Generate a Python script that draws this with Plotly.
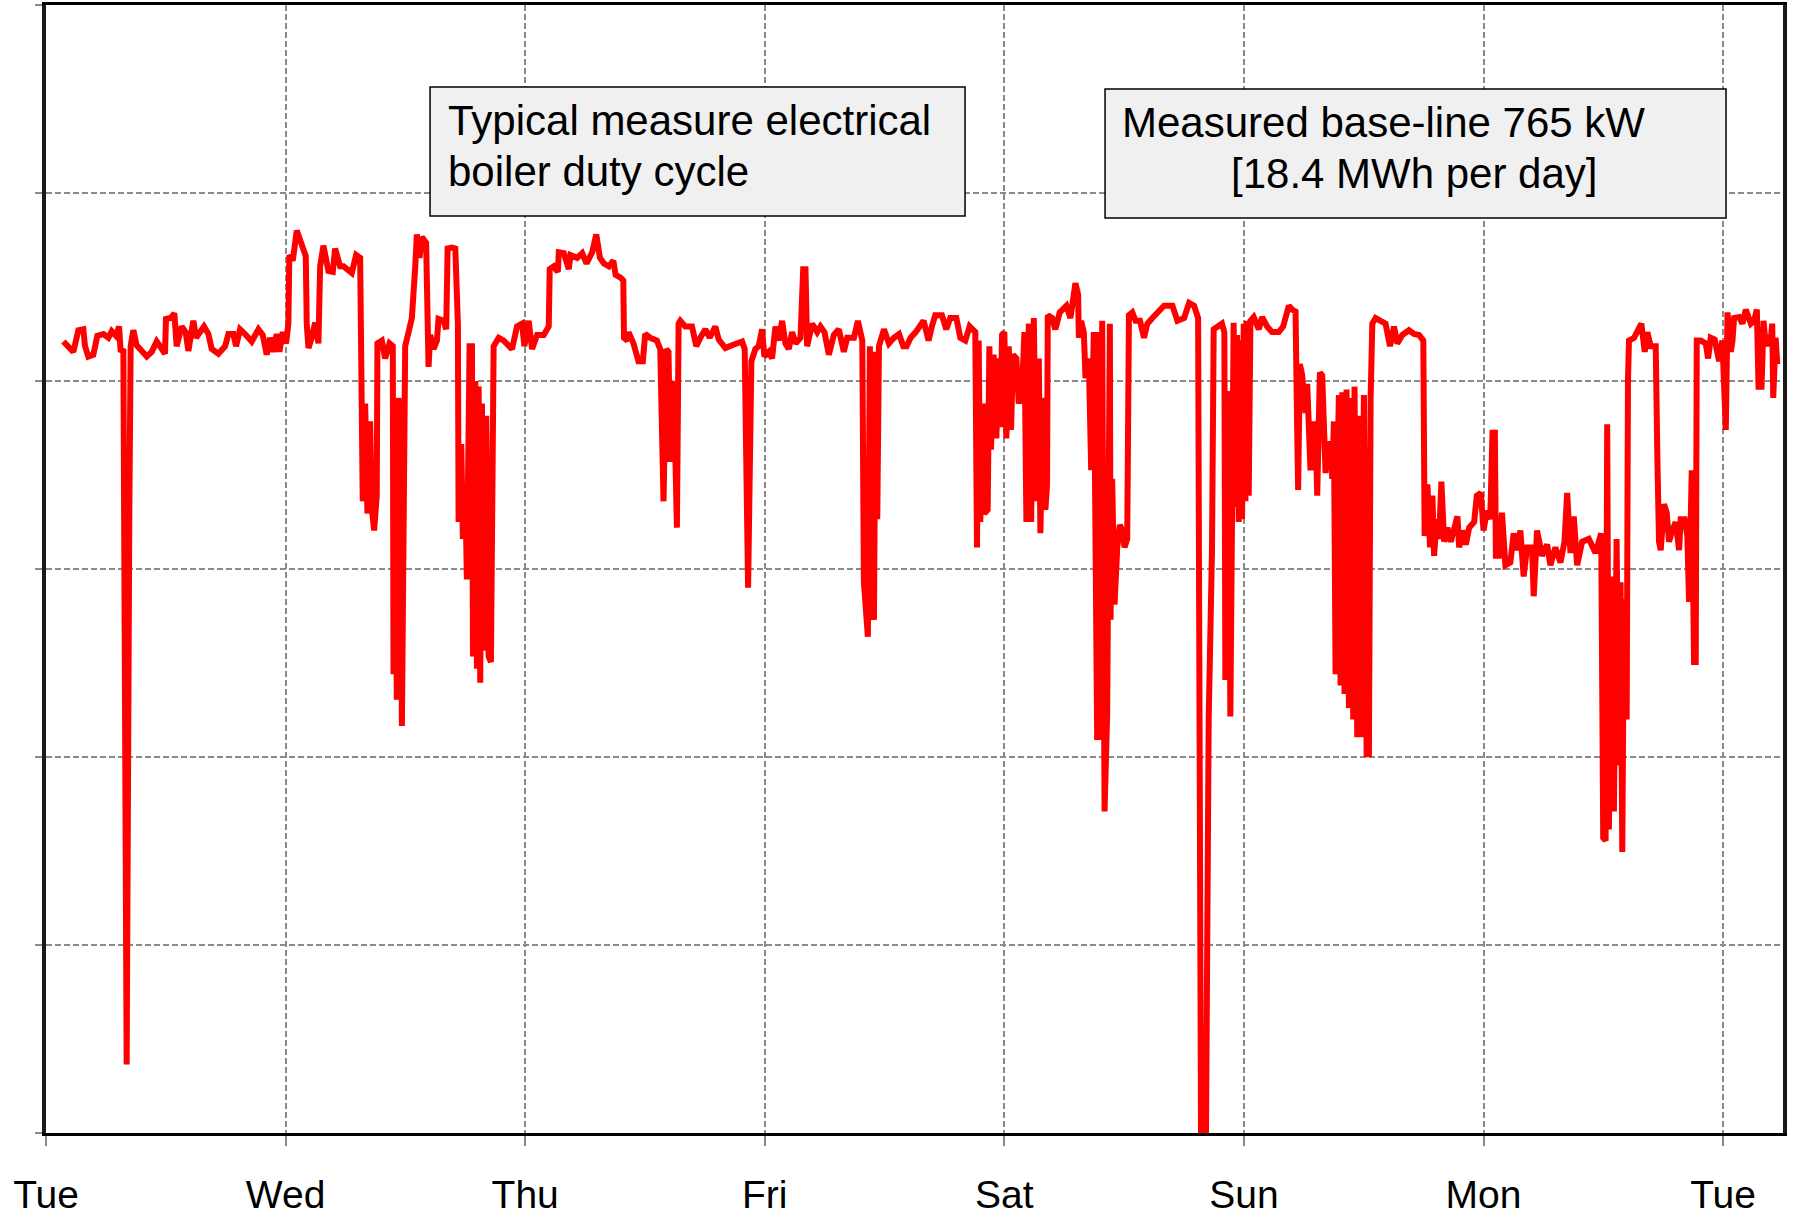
import plotly.graph_objects as go

# ---- data (hours since Tuesday 00:00, measured electrical load in kW) ----
hours_tue = [1.74, 2.74, 3.24, 3.74, 3.91, 4.24, 4.74, 5.14, 5.75, 6.25, 6.58, 7.02, 7.32, 7.48, 7.75, 8.08, 8.35, 8.48,
             8.75, 9.08, 9.42, 10.09, 10.59, 11.09, 11.42, 11.92, 12.02, 12.49, 12.86, 13.09, 13.59, 13.99, 14.26, 14.76,
             15.03, 15.43, 15.83, 16.27, 16.60, 17.27, 17.94, 18.27, 18.77, 19.04, 19.44, 19.94, 20.61, 21.28, 21.71,
             22.11, 22.45, 22.78, 23.11, 23.38, 23.72, 24.05, 24.28, 24.38, 24.72, 25.12, 25.45, 25.79, 26.02, 26.12,
             26.29, 26.62, 26.96, 27.29, 27.46, 27.79, 28.29, 28.73, 28.96, 29.46]
kw_tue = [842, 831, 854, 855, 837, 826, 828, 848, 850, 846, 853, 848, 858, 831, 834, 73, 666, 837,
          854, 838, 834, 826, 831, 842, 837, 829, 866, 867, 872, 837, 858, 852, 832, 864,
          846, 852, 858, 850, 834, 829, 837, 850, 850, 837, 855, 850, 842, 855, 849,
          828, 846, 831, 850, 831, 852, 840, 861, 934, 928, 960, 950, 944, 933, 861,
          835, 846, 862, 840, 922, 944, 917, 916, 941, 922]

hours_wed = [29.8, 30.63, 31.07, 31.47, 31.63, 31.73, 31.97, 32.2, 32.47, 32.63, 32.87, 33.13, 33.2, 33.64, 33.97,
             34.41, 34.74, 34.81, 34.98, 35.14, 35.31, 35.48, 35.65, 35.81, 35.98, 36.32, 36.65, 36.99, 37.15, 37.42,
             37.65, 38.08, 38.25, 38.32, 38.49, 38.82, 39.16, 39.32, 39.83, 40.09, 40.23, 40.66, 41.0, 41.26, 41.33,
             41.6, 41.76, 42.0, 42.16, 42.43, 42.67, 42.77, 43.0, 43.17, 43.34, 43.5, 43.67, 43.9, 44.1, 44.34,
             44.57, 44.77, 44.84, 45.35, 45.85, 46.68, 47.18, 47.69, 47.92, 48.35, 48.69, 49.19, 49.86, 50.36, 50.46,
             50.86, 51.27, 51.37, 51.87, 52.37, 52.54, 53.21, 53.71, 54.15, 54.72, 55.12, 55.49, 55.89, 56.39, 56.83,
             57.06, 57.56, 57.83, 57.9, 58.24]
kw_wed = [922, 915, 934, 931, 770, 672, 776, 659, 757, 666, 641, 678, 840, 843, 824,
          840, 837, 488, 782, 461, 782, 751, 433, 617, 837, 852, 867, 922, 956, 931,
          953, 947, 843, 815, 849, 834, 843, 866, 864, 855, 941, 942, 941, 861, 650,
          733, 632, 690, 589, 837, 837, 507, 800, 494, 794, 479, 776, 513, 763, 507,
          501, 763, 837, 846, 843, 834, 858, 861, 837, 864, 834, 849, 849, 858, 919,
          922, 916, 937, 936, 919, 934, 931, 936, 925, 937, 956, 931, 925, 922, 928,
          913, 910, 907, 846, 843]

hours_thu = [58.35, 58.85, 59.35, 59.79, 60.02, 60.52, 61.19, 61.53, 61.86, 62.13, 62.36, 62.53, 62.7, 63.03, 63.2,
             63.37, 63.54, 64.04, 64.71, 65.14, 65.55, 66.05, 66.48, 67.05, 67.39, 68.06, 68.72, 69.23, 69.73, 69.99,
             70.33, 70.66, 71.06, 71.39, 71.73, 71.96, 72.4, 72.73, 73.07, 73.4, 73.74, 74.07, 74.41, 74.74, 75.08,
             75.58, 75.85, 76.08, 76.24, 76.75, 77.25, 77.58, 77.98, 78.42, 78.92, 79.42, 79.92, 80.26, 80.93, 81.33,
             81.77, 81.93, 82.1, 82.33, 82.53, 82.77, 82.94, 83.11, 83.27, 83.44, 83.94, 84.44, 84.94, 85.45, 85.88,
             86.21, 86.61, 87.12]
kw_thu = [852, 840, 821, 821, 850, 846, 843, 834, 672, 834, 831, 714, 800, 727, 644,
          861, 864, 858, 858, 837, 846, 855, 846, 858, 844, 835, 838, 840, 842, 834,
          580, 821, 834, 837, 855, 826, 831, 824, 858, 843, 864, 840, 834, 852, 840,
          846, 919, 919, 837, 861, 852, 858, 852, 828, 849, 855, 831, 846, 846, 864,
          843, 586, 556, 528, 837, 556, 546, 831, 653, 837, 855, 840, 846, 850, 837,
          837, 846, 852]

hours_fri_sat = [87.91, 88.41, 88.74, 89.08, 89.75, 90.18, 90.58, 91.19, 91.59, 92.09, 92.52, 93.09, 93.26, 93.43,
                 93.59, 93.86, 94.0, 94.33, 94.5, 94.66, 94.93, 95.2, 95.43, 95.6, 95.77, 96.0, 96.2, 96.44, 96.67,
                 96.87, 97.21, 97.44, 97.78, 98.01, 98.21, 98.45, 98.68, 98.95, 99.21, 99.45, 99.61, 99.88, 100.11,
                 100.28, 100.35, 100.78, 101.11, 101.55, 102.22, 102.62, 103.12, 103.39, 103.46, 103.69, 103.96,
                 104.13, 104.46, 104.7, 104.96, 105.3, 105.47, 105.63, 105.8, 106.04, 106.3, 106.57, 106.64, 106.8,
                 107.04, 107.31, 107.57, 107.81, 108.04, 108.31, 108.48, 108.82, 109.15, 109.59, 109.99, 110.33,
                 110.83, 111.33, 112.0, 112.84, 113.34, 114.01, 114.51, 115.01, 115.41]
kw_fri_sat = [864, 843, 858, 870, 870, 855, 867, 867, 846, 843, 858, 852, 623, 843,
              650, 776, 659, 663, 837, 727, 828, 739, 824, 751, 849, 852, 739, 837, 748,
              828, 824, 776, 791, 852, 650, 861, 650, 867, 672, 824, 638, 782, 663,
              690, 870, 867, 855, 873, 880, 867, 904, 892, 846, 864, 852,
              803, 824, 705, 852, 418, 852, 418, 864, 342, 446, 861, 546, 696,
              562, 623, 647, 641, 623, 632, 870, 873, 864, 864, 846, 861,
              867, 873, 880, 880, 864, 867, 883, 880, 867]

hours_sun = [115.7, 116.2, 116.47, 116.8, 116.97, 117.47, 117.8, 118.04, 118.14, 118.3, 118.47, 118.64, 118.81,
             118.97, 119.14, 119.31, 119.48, 119.65, 119.81, 119.98, 120.15, 120.31, 120.48, 120.65, 120.98, 121.49,
             121.82, 122.32, 122.82, 123.49, 123.93, 124.16, 124.5, 124.83, 125.17, 125.33, 125.43, 125.6, 125.84,
             126.17, 126.34, 126.67, 127.01, 127.17, 127.34, 127.61, 127.84, 128.18, 128.35, 128.68, 128.85, 129.01,
             129.18, 129.35, 129.51, 129.68, 129.85, 130.08, 130.28, 130.52, 130.69, 130.95, 131.08, 131.35, 131.52,
             131.69, 131.85, 132.02, 132.29, 132.52, 132.69, 132.86, 133.19, 133.69, 134.19, 134.63, 135.03, 135.36,
             135.87, 136.53, 137.04, 137.54, 137.97, 138.1, 138.38, 138.64, 138.88, 139.05, 139.31, 139.55, 139.78,
             140.05, 140.39, 140.72, 141.06, 141.39, 141.56, 141.89, 142.23, 142.56, 143.06, 143.33, 143.73, 144.0,
             144.34, 144.67, 144.9, 145.14, 145.24]
kw_sun = [0, 0, 440, 620, 855, 858, 861, 852, 482, 788, 785, 443, 739,
          862, 666, 849, 650, 843, 653, 861, 672, 864, 678, 864, 868, 855,
          868, 858, 852, 852, 858, 870, 880, 876, 874, 751, 684, 818, 806,
          766, 797, 705, 754, 754, 678, 809, 806, 702, 733, 733, 696, 757,
          488, 690, 785, 476, 788, 467, 791, 452, 782, 440, 794, 421, 763,
          421, 733, 785, 403, 403, 782, 861, 867, 864, 861, 837, 858, 840,
          849, 854, 850, 849, 843, 635, 690, 623, 678, 614, 653, 632, 693,
          629, 644, 629, 644, 656, 623, 641, 626, 644, 650, 678, 681, 641,
          662, 653, 745, 745, 611]

hours_mon = [145.35, 145.52, 145.85, 146.19, 146.69, 147.02, 147.36, 147.69, 148.02, 148.36, 148.86, 149.03, 149.36,
             149.86, 150.37, 150.7, 151.2, 151.71, 152.11, 152.38, 152.71, 153.04, 153.38, 153.88, 154.55, 155.22,
             155.79, 155.99, 156.23, 156.39, 156.56, 156.8, 157.06, 157.33, 157.57, 157.73, 157.9, 158.07, 158.34,
             158.47, 158.57, 159.08, 159.41, 159.81, 160.15, 160.41, 160.75, 161.25, 161.41, 161.58, 161.75, 162.08,
             162.35, 162.58, 162.92, 163.25, 163.59, 163.75, 164.15, 164.42, 164.59, 164.86, 165.09, 165.26, 165.36,
             165.76, 166.26, 166.5, 166.76, 167.16, 167.6, 167.93, 168.27, 168.44, 168.77, 168.94, 169.1, 169.61,
             169.94, 170.27, 170.78, 171.11, 171.38, 171.55, 171.85, 172.05, 172.28, 172.52, 172.72, 172.92, 173.02,
             173.26, 173.43]
kw_mon = [641, 611, 660, 604, 607, 638, 620, 641, 592, 623, 623, 571, 641,
          614, 626, 604, 623, 607, 629, 681, 617, 656, 604, 629, 632, 617,
          638, 314, 311, 754, 323, 592, 342, 632, 391, 586, 299, 568, 440,
          800, 843, 846, 852, 861, 831, 852, 837, 837, 721, 629, 620, 669,
          660, 629, 641, 650, 620, 653, 653, 635, 565, 705, 501, 501, 843,
          843, 840, 824, 846, 844, 821, 843, 748, 873, 831, 843, 867, 868,
          861, 876, 861, 864, 876, 794, 794, 864, 837, 849, 837, 861, 782,
          846, 818]

day_ticks = [0, 24, 48, 72, 96, 120, 144, 168]
day_labels = ["Tue", "Wed", "Thu", "Fri", "Sat", "Sun", "Mon", "Tue"]

note_left = ["Typical measure electrical", "boiler duty cycle"]
note_right = ["Measured base-line 765 kW", "[18.4 MWh per day]"]

hours = hours_tue + hours_wed + hours_thu + hours_fri_sat + hours_sun + hours_mon
power_kw = kw_tue + kw_wed + kw_thu + kw_fri_sat + kw_sun + kw_mon
assert len(hours) == len(power_kw)

FONT = "Liberation Sans, Arial, sans-serif"
GRID = "#8a8a8a"

fig = go.Figure()
fig.add_trace(go.Scatter(
    x=hours, y=power_kw, mode="lines",
    line=dict(color="#ff0000", width=6),
    hoverinfo="x+y", showlegend=False,
))

fig.update_layout(
    template="none",
    width=1795, height=1216,
    margin=dict(l=46, r=12, t=5, b=83, autoexpand=False),
    paper_bgcolor="white", plot_bgcolor="white",
    font=dict(family=FONT, color="black"),
    showlegend=False,
)

fig.update_xaxes(
    automargin=False,
    range=[0, 174], tickmode="array", tickvals=day_ticks, ticktext=day_labels,
    showgrid=True, gridcolor=GRID, griddash="6px,3px", gridwidth=1.5,
    ticks="outside", ticklen=10, tickwidth=1.5, tickcolor=GRID,
    showline=True, linecolor="black", linewidth=3, mirror=True,
    zeroline=False, tickfont=dict(size=39, family=FONT, color="black"),
    ticklabelstandoff=15,
)
fig.update_yaxes(
    automargin=False,
    range=[0, 1200], dtick=200, tick0=0, showticklabels=False,
    showgrid=True, gridcolor=GRID, griddash="6px,3px", gridwidth=1.5,
    ticks="outside", ticklen=7, tickwidth=1.5, tickcolor=GRID,
    showline=True, linecolor="#1a1a1a", linewidth=4, mirror=True,
    zeroline=False,
)

# annotation boxes (paper coordinates)
boxes = [(0.2211, 0.8129, 0.5291, 0.9273), (0.6097, 0.8112, 0.9672, 0.9255)]
for x0, y0, x1, y1 in boxes:
    fig.add_shape(type="rect", xref="paper", yref="paper", x0=x0, y0=y0, x1=x1, y1=y1,
                  fillcolor="#f0f0f0", line=dict(color="black", width=1.5), layer="above")

text_font = dict(family=FONT, size=42, color="black")
fig.add_annotation(xref="paper", yref="paper", x=0.2300, y=0.8972, xanchor="left", yanchor="middle",
                   text=note_left[0], showarrow=False, font=text_font)
fig.add_annotation(xref="paper", yref="paper", x=0.2300, y=0.8528, xanchor="left", yanchor="middle",
                   text=note_left[1], showarrow=False, font=text_font)
fig.add_annotation(xref="paper", yref="paper", x=0.6185, y=0.8955, xanchor="left", yanchor="middle",
                   text=note_right[0], showarrow=False, font=text_font)
fig.add_annotation(xref="paper", yref="paper", x=0.7876, y=0.8510, xanchor="center", yanchor="middle",
                   text=note_right[1], showarrow=False, font=text_font)

# remove the browser's default 8px page margin so the figure fills the window exactly
fig.write_html("out.html", config={"displayModeBar": False},
               post_script="document.body.style.margin='0';document.body.style.overflow='hidden';")
